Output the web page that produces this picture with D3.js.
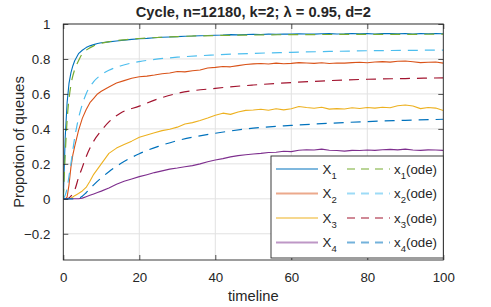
<!DOCTYPE html>
<html><head><meta charset="utf-8">
<script src="https://cdn.jsdelivr.net/npm/d3@7"></script>
<style>
body{margin:0;background:#fff}
svg{display:block}
text{font-family:"Liberation Sans",Arial,Helvetica,sans-serif;fill:#262626}
</style>
</head><body>
<svg id="c" width="491" height="307"></svg>
<script>
// ---- data ----
const tSim = [0,0.5,1,1.5,2,2.5,3,4,5,6,7,8,9,10,
  12,14,16,18,20,22,24,26,28,30,32,34,36,38,40,42,44,46,48,50,52,54,56,58,60,
  62,64,66,68,70,72,74,76,78,80,82,84,86,88,90,92,94,96,98,100];
const X1 = [0,0.35,0.55,0.66,0.72,0.76,0.79,0.83,0.85,0.865,0.875,0.882,0.888,0.893,
  0.898,0.903,0.908,0.912,0.916,0.918,0.921,0.924,0.926,0.928,0.930,0.931,0.933,0.934,0.936,0.937,0.939,0.938,0.940,0.941,0.940,0.942,0.941,0.943,0.942,
  0.944,0.943,0.942,0.944,0.945,0.943,0.944,0.946,0.944,0.945,0.943,0.945,0.946,0.944,0.945,0.943,0.945,0.944,0.946,0.944];
const X2 = [0,0,0.01,0.08,0.18,0.25,0.30,0.39,0.46,0.51,0.55,0.575,0.60,0.615,
  0.64,0.662,0.676,0.69,0.698,0.702,0.708,0.715,0.72,0.728,0.726,0.733,0.737,0.748,0.752,0.757,0.755,0.762,0.768,0.772,0.774,0.771,0.776,0.773,0.775,
  0.779,0.777,0.775,0.778,0.774,0.777,0.776,0.779,0.781,0.778,0.783,0.785,0.782,0.787,0.788,0.784,0.779,0.781,0.783,0.776];
const X3 = [0,0,0,0,0.003,0.01,0.018,0.03,0.045,0.065,0.10,0.14,0.17,0.20,
  0.26,0.29,0.31,0.33,0.352,0.365,0.378,0.39,0.398,0.41,0.428,0.436,0.448,0.462,0.478,0.49,0.483,0.497,0.506,0.508,0.512,0.507,0.515,0.509,0.515,
  0.528,0.522,0.518,0.524,0.513,0.516,0.514,0.521,0.517,0.522,0.519,0.524,0.521,0.532,0.537,0.531,0.516,0.522,0.519,0.505];
const X4 = [0,0,0,0,0,0,0,0,0.004,0.012,0.02,0.028,0.036,0.044,
  0.062,0.083,0.10,0.113,0.127,0.138,0.15,0.16,0.17,0.176,0.183,0.19,0.20,0.212,0.222,0.23,0.24,0.247,0.252,0.256,0.26,0.265,0.266,0.272,0.27,
  0.278,0.281,0.279,0.284,0.278,0.276,0.273,0.277,0.276,0.279,0.277,0.281,0.283,0.28,0.284,0.279,0.277,0.28,0.279,0.277];

const tOde = [0,0.5,1,1.5,2,3,4,5,6,8,10,12,15,20,25,30,40,50,60,70,80,90,100];
const x1ode = [0,0.25,0.45,0.57,0.65,0.74,0.79,0.83,0.85,0.875,0.89,0.899,0.908,0.917,0.923,0.928,0.934,0.937,0.939,0.940,0.941,0.941,0.942];
const x2ode = [0,0.02,0.06,0.13,0.20,0.35,0.46,0.54,0.60,0.67,0.71,0.735,0.76,0.785,0.80,0.81,0.823,0.832,0.838,0.843,0.847,0.849,0.851];
const x3ode = [0,0,0,0.005,0.015,0.05,0.12,0.18,0.24,0.33,0.39,0.44,0.49,0.53,0.572,0.603,0.632,0.651,0.665,0.676,0.684,0.688,0.692];
const x4ode = [0,0,0,0,0,0,0.003,0.015,0.035,0.08,0.12,0.155,0.20,0.258,0.30,0.333,0.375,0.404,0.42,0.432,0.442,0.449,0.455];

const xTicks = [0,20,40,60,80,100];
const yTicks = [-0.2,0,0.2,0.4,0.6,0.8,1];
const legendNames = ["X","x","X","x","X","x","X","x"];
const legendSubs = ["1","1","2","2","3","3","4","4"];
const legendSuffix = ["","(ode)","","(ode)","","(ode)","","(ode)"];
const titleText = "Cycle, n=12180, k=2; λ = 0.95, d=2";
const xLabel = "timeline";
const yLabel = "Propotion of queues";

// ---- drawing ----
const svg = d3.select("#c");
const L = 63.3, R = 443.3, T = 24, B = 260;
const x = d3.scaleLinear().domain([0,100]).range([L,R]);
const y = d3.scaleLinear().domain([-0.35,1]).range([B,T]);

const series = [
  {t:tSim, v:X1, c:"#0072BD", dash:null, leg:{c:"#0072BD",o:1,w:1.2}},
  {t:tOde, v:x1ode, c:"#77AC30", dash:"10,7", leg:{c:"#77AC30",o:1,w:1.2}},
  {t:tSim, v:X2, c:"#D95319", dash:null, leg:{c:"#D95319",o:0.5,w:2}},
  {t:tOde, v:x2ode, c:"#4DBEEE", dash:"10,7", leg:{c:"#4DBEEE",o:0.55,w:2}},
  {t:tSim, v:X3, c:"#EDB120", dash:null, leg:{c:"#EDB120",o:1,w:1.2}},
  {t:tOde, v:x3ode, c:"#A2142F", dash:"10,7", leg:{c:"#A2142F",o:1,w:1.2}},
  {t:tSim, v:X4, c:"#7E2F8E", dash:null, leg:{c:"#7E2F8E",o:0.5,w:2}},
  {t:tOde, v:x4ode, c:"#0072BD", dash:"10,7", leg:{c:"#0072BD",o:0.55,w:2}}
];

// grid
const g = svg.append("g");
g.selectAll("line.gx").data(xTicks).join("line")
  .attr("x1",d=>x(d)).attr("x2",d=>x(d)).attr("y1",T).attr("y2",B)
  .attr("stroke","#e2e2e2").attr("stroke-width",1);
g.selectAll("line.gy").data(yTicks).join("line")
  .attr("x1",L).attr("x2",R).attr("y1",d=>y(d)).attr("y2",d=>y(d))
  .attr("stroke","#e2e2e2").attr("stroke-width",1);

// data lines
const clip = svg.append("clipPath").attr("id","cp").append("rect")
  .attr("x",L).attr("y",T).attr("width",R-L).attr("height",B-T);
const lines = svg.append("g").attr("clip-path","url(#cp)");
series.forEach(s=>{
  const pts = s.t.map((t,i)=>[t,s.v[i]]);
  const gen = d3.line().x(d=>x(d[0])).y(d=>y(d[1]))
    .curve(s.dash ? d3.curveMonotoneX : d3.curveLinear);
  lines.append("path").attr("d",gen(pts)).attr("fill","none")
    .attr("stroke",s.c).attr("stroke-width",s.dash?1.2:1.1)
    .attr("stroke-dasharray",s.dash).attr("stroke-linejoin","round");
});

// axes (MATLAB box with inward ticks)
const axc = "#262626";
const ax = svg.append("g");
ax.append("g").attr("transform",`translate(0,${B})`)
  .call(d3.axisBottom(x).tickValues(xTicks).tickSizeInner(-5).tickSizeOuter(0).tickPadding(13))
  .call(a=>a.select(".domain").remove());
ax.append("g").attr("transform",`translate(0,${T})`)
  .call(d3.axisTop(x).tickValues(xTicks).tickSizeInner(-5).tickSizeOuter(0).tickFormat(""))
  .call(a=>a.select(".domain").remove());
ax.append("g").attr("transform",`translate(${L},0)`)
  .call(d3.axisLeft(y).tickValues(yTicks).tickSizeInner(-5).tickSizeOuter(0).tickPadding(13)
    .tickFormat(d=>d===0?"0":d3.format("~g")(d)))
  .call(a=>a.select(".domain").remove());
ax.append("g").attr("transform",`translate(${R},0)`)
  .call(d3.axisRight(y).tickValues(yTicks).tickSizeInner(-5).tickSizeOuter(0).tickFormat(""))
  .call(a=>a.select(".domain").remove());
ax.selectAll(".tick line").attr("stroke",axc).attr("stroke-width",0.8);
ax.selectAll(".tick text").attr("fill",axc).style("font-size","13.3px")
  .style("font-family",'"Liberation Sans",Arial,sans-serif');
ax.append("rect").attr("x",L).attr("y",T).attr("width",R-L).attr("height",B-T)
  .attr("fill","none").attr("stroke",axc).attr("stroke-width",0.9);

// title and labels
svg.append("text").attr("x",(L+R)/2).attr("y",16.5).attr("text-anchor","middle")
  .style("font-size","14.7px").style("font-weight","bold").attr("fill","#000").text(titleText);
svg.append("text").attr("x",(L+R)/2).attr("y",301).attr("text-anchor","middle")
  .style("font-size","14.7px").text(xLabel);
svg.append("text").attr("transform",`translate(24,${(T+B)/2}) rotate(-90)`)
  .attr("text-anchor","middle").style("font-size","14.7px").text(yLabel);

// legend
const lg = svg.append("g");
lg.append("rect").attr("x",271).attr("y",156).attr("width",172.3).attr("height",102)
  .attr("fill","#fff").attr("stroke",axc).attr("stroke-width",0.9);
const rowY = [169,193.5,218,242.5];
const colX = [{x1:276,x2:318,tx:322.5},{x1:347,x2:390,tx:394}];
series.forEach((s,i)=>{
  const r = Math.floor(i/2), c = i%2, cy = rowY[r], col = colX[c];
  lg.append("line").attr("x1",col.x1).attr("x2",col.x2).attr("y1",cy).attr("y2",cy)
    .attr("stroke",s.leg.c).attr("stroke-opacity",s.leg.o).attr("stroke-width",s.leg.w)
    .attr("stroke-dasharray",s.dash?"8,6":null);
  const t = lg.append("text").attr("x",col.tx).attr("y",cy+4.5).style("font-size","13.3px");
  t.append("tspan").text(legendNames[i]);
  t.append("tspan").attr("dy",5).style("font-size","9.5px").text(legendSubs[i]);
  if (legendSuffix[i]) t.append("tspan").attr("dy",-5).text(legendSuffix[i]);
});
</script>
</body></html>
